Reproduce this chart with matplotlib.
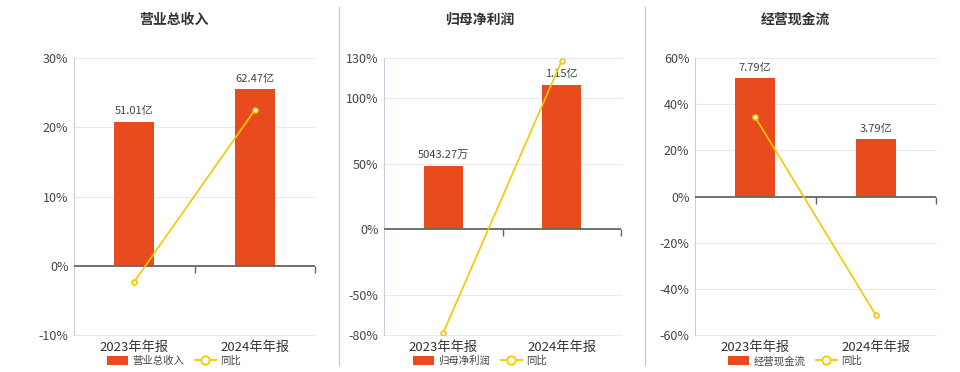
import matplotlib
matplotlib.use("Agg")
import matplotlib.pyplot as plt
from matplotlib.lines import Line2D
from matplotlib.patches import Patch
from matplotlib.transforms import blended_transform_factory

plt.rcParams['font.family'] = ['Noto Sans CJK SC', 'DejaVu Sans']

# datos
periodos = ['2023年年报', '2024年年报']
titulos = ['营业总收入', '归母净利润', '经营现金流']
valores = [[51.01, 62.47], [0.504327, 1.15], [7.79, 3.79]]   # en 亿
etiquetas = [['51.01亿', '62.47亿'], ['5043.27万', '1.15亿'], ['7.79亿', '3.79亿']]
yoy = [[-2.3, 22.47], [-78.2, 128.0], [34.3, -51.3]]          # 同比 %
yticks = [[-10, 0, 10, 20, 30], [-80, -50, 0, 50, 100, 130], [-60, -40, -20, 0, 20, 40, 60]]
ylims = [(-10, 30), (-80, 130), (-60, 60)]
# escala del eje oculto de las barras (亿)
bar_lims = [(-24.5, 73.5), (-0.838, 1.361), (-9.14, 9.14)]

# posiciones en pixeles (izq, der) de cada grafico y centro del titulo
ejes_px = [(74, 315), (384, 621), (695, 936)]
centros = [174, 480, 795]

W, H = 960, 372
rojo = '#E84C1E'
amarillo = '#F5C800'

fig = plt.figure(figsize=(W / 100, H / 100), dpi=100)

for i in range(3):
    x0, x1 = ejes_px[i]
    ax = fig.add_axes([x0 / W, (H - 335) / H, (x1 - x0) / W, 277 / H])
    ax2 = ax.twinx()
    ax.set_zorder(ax2.get_zorder() + 1)
    ax.patch.set_visible(False)

    ax.set_xlim(-0.5, 1.5)
    ax.set_ylim(*ylims[i])

    # rejilla debajo de las barras
    trans = blended_transform_factory(ax2.transAxes, ax.transData)
    for t in yticks[i]:
        if t != 0:
            ax2.plot([0, 1], [t, t], color='#e6eaf2', lw=0.8, transform=trans,
                     zorder=0, clip_on=False)

    xs = range(len(periodos))
    ax2.bar(xs, valores[i], width=0.33, color=rojo, zorder=2)
    ax2.set_ylim(*bar_lims[i])
    ax2.axis('off')
    for x, v, t in zip(xs, valores[i], etiquetas[i]):
        ax2.annotate(t, (x, v), xytext=(0, 4), textcoords='offset points',
                     ha='center', va='bottom', fontsize=8, color='#444444')

    ax.plot(xs, yoy[i], color=amarillo, lw=1.2, marker='o', ms=3.5,
            mfc='white', mec=amarillo, mew=1.2, zorder=5)

    ax.set_yticks(yticks[i])
    ax.set_yticklabels([f'{t}%' for t in yticks[i]])
    ax.tick_params(axis='y', length=0, labelsize=9, labelcolor='#444444', pad=4)
    ax.set_xticks(xs)
    ax.set_xticklabels(periodos)
    ax.tick_params(axis='x', length=0, labelsize=9.5, labelcolor='#333333', pad=4)

    ax.axhline(0, color='#666666', lw=1.3, zorder=3)
    for bx in [0.5, 1.5]:
        ax.plot([bx], [0], marker=3, ms=5, mew=1, color='#666666',
                clip_on=False, zorder=3)

    for s in ['top', 'right', 'bottom']:
        ax.spines[s].set_visible(False)
    ax.spines['left'].set_color('#c8cfdb')

    fig.text(centros[i] / W, 1 - 20 / H, titulos[i], ha='center', va='center',
             fontsize=10, fontweight='bold', color='#333333')

    handles = [Patch(facecolor=rojo, edgecolor='none'),
               Line2D([], [], color=amarillo, lw=1.3, marker='o', ms=6,
                      mfc='white', mec=amarillo, mew=1.3)]
    fig.legend(handles, [titulos[i], '同比'], loc='center',
               bbox_to_anchor=(centros[i] / W, 1 - 361 / H), ncol=2,
               frameon=False, fontsize=7.5, handlelength=2.0, handleheight=1.0,
               columnspacing=1.0, handletextpad=0.4, labelcolor='#444444')

# lineas separadoras
for sx in [339, 645]:
    fig.add_artist(Line2D([sx / W, sx / W], [0.02, 0.98], color='#cccccc', lw=1))

fig.savefig('out.png', dpi=100)
